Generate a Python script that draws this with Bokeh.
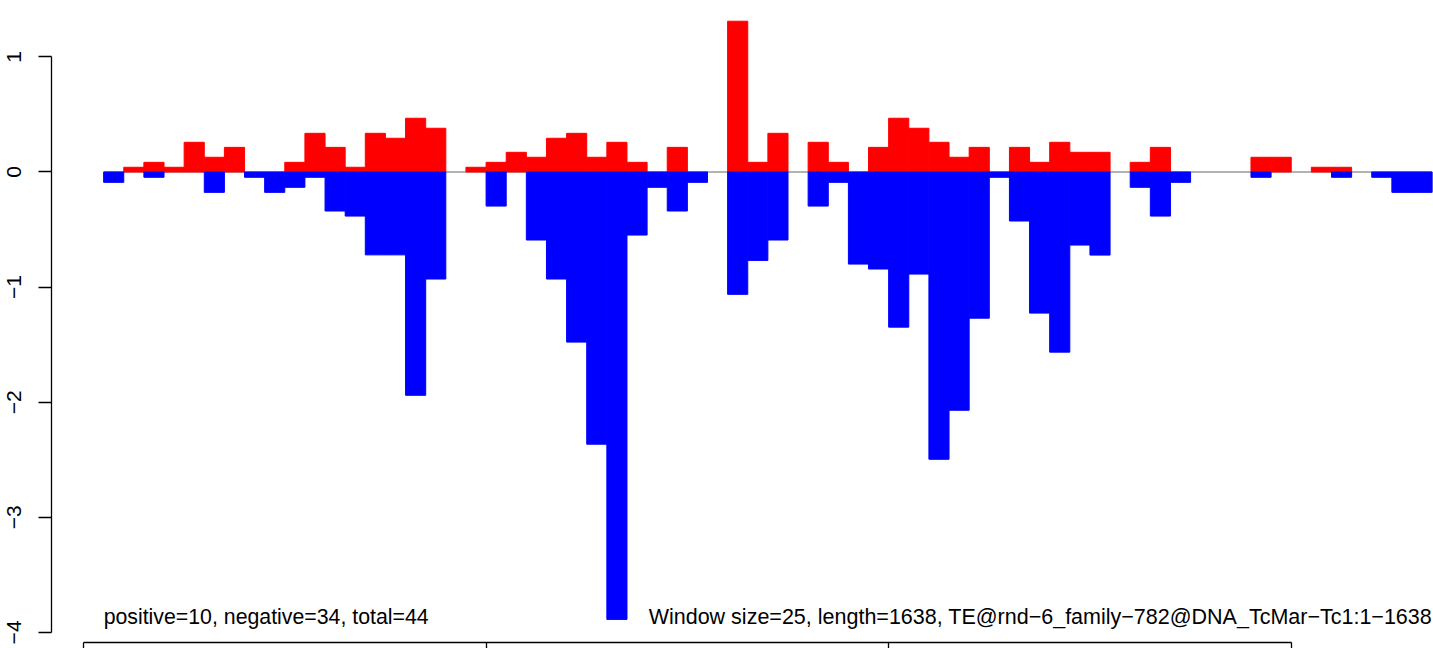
from bokeh.plotting import figure
from bokeh.models import Range1d, LinearAxis, FixedTicker, ColumnDataSource
from bokeh.core.properties import value
from bokeh.embed import file_html
from bokeh.resources import INLINE

# ---------------- data ----------------
window_size = 25
window_index = list(range(1, 67))          # 66 windows along the TE

positive = [0.000, 0.041, 0.084, 0.041, 0.258, 0.128, 0.214, 0.000, 0.000, 0.084,
            0.336, 0.214, 0.041, 0.336, 0.293, 0.467, 0.380, 0.000, 0.041, 0.084,
            0.171, 0.128, 0.293, 0.336, 0.128, 0.258, 0.084, 0.000, 0.214, 0.000,
            0.000, 1.310, 0.084, 0.336, 0.000, 0.258, 0.084, 0.000, 0.214, 0.467,
            0.380, 0.258, 0.128, 0.214, 0.000, 0.214, 0.084, 0.258, 0.171, 0.171,
            0.000, 0.084, 0.214, 0.000, 0.000, 0.000, 0.000, 0.128, 0.128, 0.000,
            0.041, 0.041, 0.000, 0.000, 0.000, 0.000]

negative = [0.090, 0.000, 0.046, 0.000, 0.000, 0.177, 0.000, 0.046, 0.177, 0.133,
            0.046, 0.339, 0.383, 0.720, 0.720, 1.940, 0.930, 0.000, 0.000, 0.296,
            0.000, 0.591, 0.930, 1.478, 2.365, 3.887, 0.548, 0.133, 0.339, 0.090,
            0.000, 1.063, 0.768, 0.591, 0.000, 0.296, 0.090, 0.800, 0.843, 1.348,
            0.887, 2.496, 2.070, 1.270, 0.046, 0.426, 1.226, 1.565, 0.635, 0.722,
            0.000, 0.133, 0.383, 0.090, 0.000, 0.000, 0.000, 0.046, 0.000, 0.000,
            0.000, 0.046, 0.000, 0.046, 0.177, 0.177]

y_ticks = [-4, -3, -2, -1, 0, 1]
y_tick_labels = ["\u22124", "\u22123", "\u22122", "\u22121", "0", "1"]
x_ticks = [0, 500, 1000, 1500]

summary_text = "positive=10, negative=34, total=44"
info_text = "Window size=25, length=1638, TE@rnd\u22126_family\u2212782@DNA_TcMar\u2212Tc1:1\u22121638"

# ---------------- build sources ----------------
lefts = [i * window_size for i in window_index]
rights = [(i + 1) * window_size for i in window_index]

pos_src = ColumnDataSource(dict(
    left=[l for l, v in zip(lefts, positive) if v > 0],
    right=[r for r, v in zip(rights, positive) if v > 0],
    top=[v for v in positive if v > 0],
    bottom=[0.0 for v in positive if v > 0],
))
neg_src = ColumnDataSource(dict(
    left=[l for l, v in zip(lefts, negative) if v > 0],
    right=[r for r, v in zip(rights, negative) if v > 0],
    top=[0.0 for v in negative if v > 0],
    bottom=[-v for v in negative if v > 0],
))

FONT = "Liberation Sans"

p = figure(width=1433, height=648,
           x_range=Range1d(-103.09, 1676.7),
           y_range=Range1d(-4.1399, 1.4900),
           x_axis_location=None, y_axis_location=None,
           toolbar_location=None, output_backend="svg",
           min_border=0, min_border_left=0, min_border_right=0,
           min_border_top=0, min_border_bottom=0)
p.outline_line_color = None
p.xgrid.visible = False
p.ygrid.visible = False
p.background_fill_color = "white"
p.border_fill_color = "white"

# zero line
p.line([lefts[0], rights[-1]], [0, 0], line_color="#9a9a9a", line_width=1.5)

p.quad(left="left", right="right", top="top", bottom="bottom", source=pos_src,
       fill_color="#FF0000", line_color="#FF0000", line_width=1.0)
p.quad(left="left", right="right", top="top", bottom="bottom", source=neg_src,
       fill_color="#0000FF", line_color="#0000FF", line_width=1.0)

# annotations
p.text(x=[lefts[0]], y=[-3.870], text=[summary_text],
       text_font=value(FONT), text_font_size="21.3px", text_color="black",
       text_align="left", text_baseline="alphabetic")
p.text(x=[rights[-1]], y=[-3.870], text=[info_text],
       text_font=value(FONT), text_font_size="21.5px", text_color="black",
       text_align="right", text_baseline="alphabetic")

# axes (R-style, drawn at the plot-region edges)
yaxis = LinearAxis(fixed_location=-39.75, bounds=(-4, 1),
                   ticker=FixedTicker(ticks=y_ticks))
yaxis.major_label_overrides = {t: s for t, s in zip(y_ticks, y_tick_labels)}
yaxis.major_label_orientation = "vertical"
yaxis.major_label_text_font = FONT
yaxis.major_label_text_font_size = "21px"
yaxis.major_label_text_color = "black"
yaxis.major_label_standoff = 17
yaxis.major_tick_out = 13
yaxis.major_tick_in = 0
yaxis.minor_tick_out = 0
yaxis.minor_tick_in = 0
yaxis.axis_line_width = 1.3
yaxis.major_tick_line_width = 1.3
yaxis.axis_line_color = "black"
yaxis.major_tick_line_color = "black"
p.add_layout(yaxis, "left")

xaxis = LinearAxis(fixed_location=-4.0877, bounds=(0, 1500),
                   ticker=FixedTicker(ticks=x_ticks))
xaxis.major_label_overrides = {t: "" for t in x_ticks}
xaxis.major_tick_out = 13
xaxis.major_tick_in = 0
xaxis.minor_tick_out = 0
xaxis.minor_tick_in = 0
xaxis.axis_line_width = 1.3
xaxis.major_tick_line_width = 1.3
xaxis.axis_line_color = "black"
xaxis.major_tick_line_color = "black"
p.add_layout(xaxis, "below")

open("out.html", "w").write(file_html(p, INLINE))
